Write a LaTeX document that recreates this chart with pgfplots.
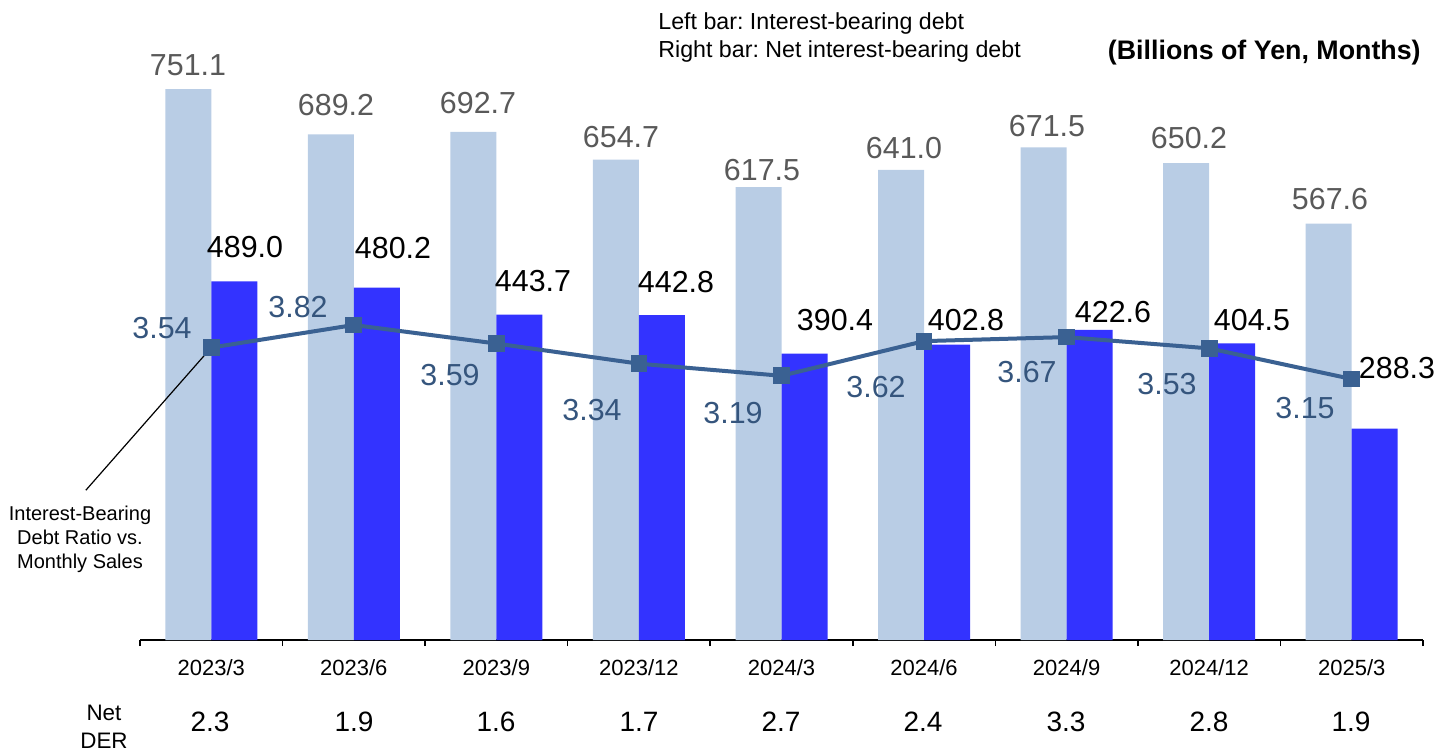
\documentclass[border=0pt]{standalone}
\usepackage{pgfplots}
\pgfplotsset{compat=1.18}
\usepackage{fontspec}
\setmainfont{Liberation Sans}
\frenchspacing
\definecolor{lightbar}{HTML}{B9CDE5}
\definecolor{darkbar}{HTML}{3333FF}
\definecolor{linec}{HTML}{3A6192}
\definecolor{grayt}{HTML}{595959}
\definecolor{labc}{HTML}{35557D}
\newcommand{\px}[2]{({#1*0.5pt},{(751-#2)*0.5pt})}
\begin{document}
\begin{tikzpicture}
\useasboundingbox (0,0) rectangle (721.5pt,375.5pt);
\begin{axis}[
  at={(70pt,55.5pt)}, anchor=south west,
  width=641.5pt, height=300pt, scale only axis,
  xmin=-0.5, xmax=8.5, ymin=0, ymax=817.9,
  axis x line*=bottom, axis y line=none,
  axis line style={black, line width=1pt, -},
  xtick={-0.5,0.5,1.5,2.5,3.5,4.5,5.5,6.5,7.5,8.5},
  xticklabels={},
  major tick length=3pt, tick align=outside,
  tick style={black, line width=0.8pt},
  extra x ticks={0,1,2,3,4,5,6,7,8},
  extra x tick labels={2023/3,2023/6,2023/9,2023/12,2024/3,2024/6,2024/9,2024/12,2025/3},
  extra x tick style={major tick length=0pt},
  xticklabel style={font=\fontsize{11}{13}\selectfont, yshift=-6pt},
  clip=false,
]
\addplot[ybar, bar width=23pt, bar shift=-11.5pt, fill=lightbar, draw=none]
 coordinates {(0,751.1) (1,689.2) (2,692.7) (3,654.7) (4,617.5) (5,641.0) (6,671.5) (7,650.2) (8,567.6)};
\addplot[ybar, bar width=23pt, bar shift=11.5pt, fill=darkbar, draw=none]
 coordinates {(0,489.0) (1,480.2) (2,443.7) (3,442.8) (4,390.4) (5,402.8) (6,422.6) (7,404.5) (8,288.3)};
\end{axis}
\begin{axis}[
  at={(70pt,55.5pt)}, anchor=south west,
  width=641.5pt, height=300pt, scale only axis,
  xmin=-0.5, xmax=8.5, ymin=-0.088, ymax=7.356,
  hide axis, clip=false,
]
\draw[black, line width=0.6pt] (axis cs:-0.88,1.77) -- (axis cs:0,3.54);
\addplot[color=linec, line width=2pt, mark=square*, mark size=3.2pt, mark options={fill=linec, draw=linec}]
 coordinates {(0,3.54) (1,3.82) (2,3.59) (3,3.34) (4,3.19) (5,3.62) (6,3.67) (7,3.53) (8,3.15)};
\end{axis}
% light bar labels
\begin{scope}[every node/.style={font=\fontsize{15.2}{17}\selectfont, text=grayt, inner sep=0pt}]
\node at \px{188}{65} {751.1};
\node at \px{336}{105} {689.2};
\node at \px{478}{103} {692.7};
\node at \px{621}{137} {654.7};
\node at \px{762}{170} {617.5};
\node at \px{904}{148} {641.0};
\node at \px{1047}{126} {671.5};
\node at \px{1189}{138} {650.2};
\node at \px{1330}{199} {567.6};
\end{scope}
% dark bar labels
\begin{scope}[every node/.style={font=\fontsize{15.2}{17}\selectfont, text=black, inner sep=0pt}]
\node at \px{245}{247} {489.0};
\node at \px{393}{248} {480.2};
\node at \px{533}{281} {443.7};
\node at \px{676}{282} {442.8};
\node at \px{835}{320} {390.4};
\node at \px{966}{320} {402.8};
\node at \px{1113}{312} {422.6};
\node at \px{1252}{320} {404.5};
\node at \px{1397}{368} {288.3};
\end{scope}
% line labels
\begin{scope}[every node/.style={font=\fontsize{15.2}{17}\selectfont, text=labc, inner sep=0pt}]
\node at \px{162}{328} {3.54};
\node at \px{298}{307} {3.82};
\node at \px{450}{375} {3.59};
\node at \px{592}{410} {3.34};
\node at \px{733}{413} {3.19};
\node at \px{876}{387} {3.62};
\node at \px{1027}{372} {3.67};
\node at \px{1167}{384} {3.53};
\node at \px{1305}{408} {3.15};
\end{scope}
% Net DER row
\begin{scope}[every node/.style={font=\fontsize{14}{16}\selectfont, text=black, inner sep=0pt}]
\node at \px{210}{722} {2.3};
\node at \px{354}{722} {1.9};
\node at \px{496}{722} {1.6};
\node at \px{639}{722} {1.7};
\node at \px{781}{722} {2.7};
\node at \px{923}{722} {2.4};
\node at \px{1066}{722} {3.3};
\node at \px{1209}{722} {2.8};
\node at \px{1351}{722} {1.9};
\end{scope}
\node[font=\fontsize{11.2}{14}\selectfont, align=center, inner sep=0pt, anchor=north] at \px{104}{705} {Net\\DER};
\node[font=\fontsize{10}{12}\selectfont, align=center, inner sep=0pt, anchor=north] at \px{80}{506} {Interest-Bearing\\Debt Ratio vs.\\Monthly Sales};
\node[font=\fontsize{11.6}{14}\selectfont, align=left, inner sep=0pt, anchor=north west] at \px{658}{12} {Left bar: Interest-bearing debt\\Right bar: Net interest-bearing debt};
\node[font=\bfseries\fontsize{13.4}{15}\selectfont, inner sep=0pt, anchor=east] at \px{1421}{53} {(Billions of Yen, Months)};
\end{tikzpicture}
\end{document}
